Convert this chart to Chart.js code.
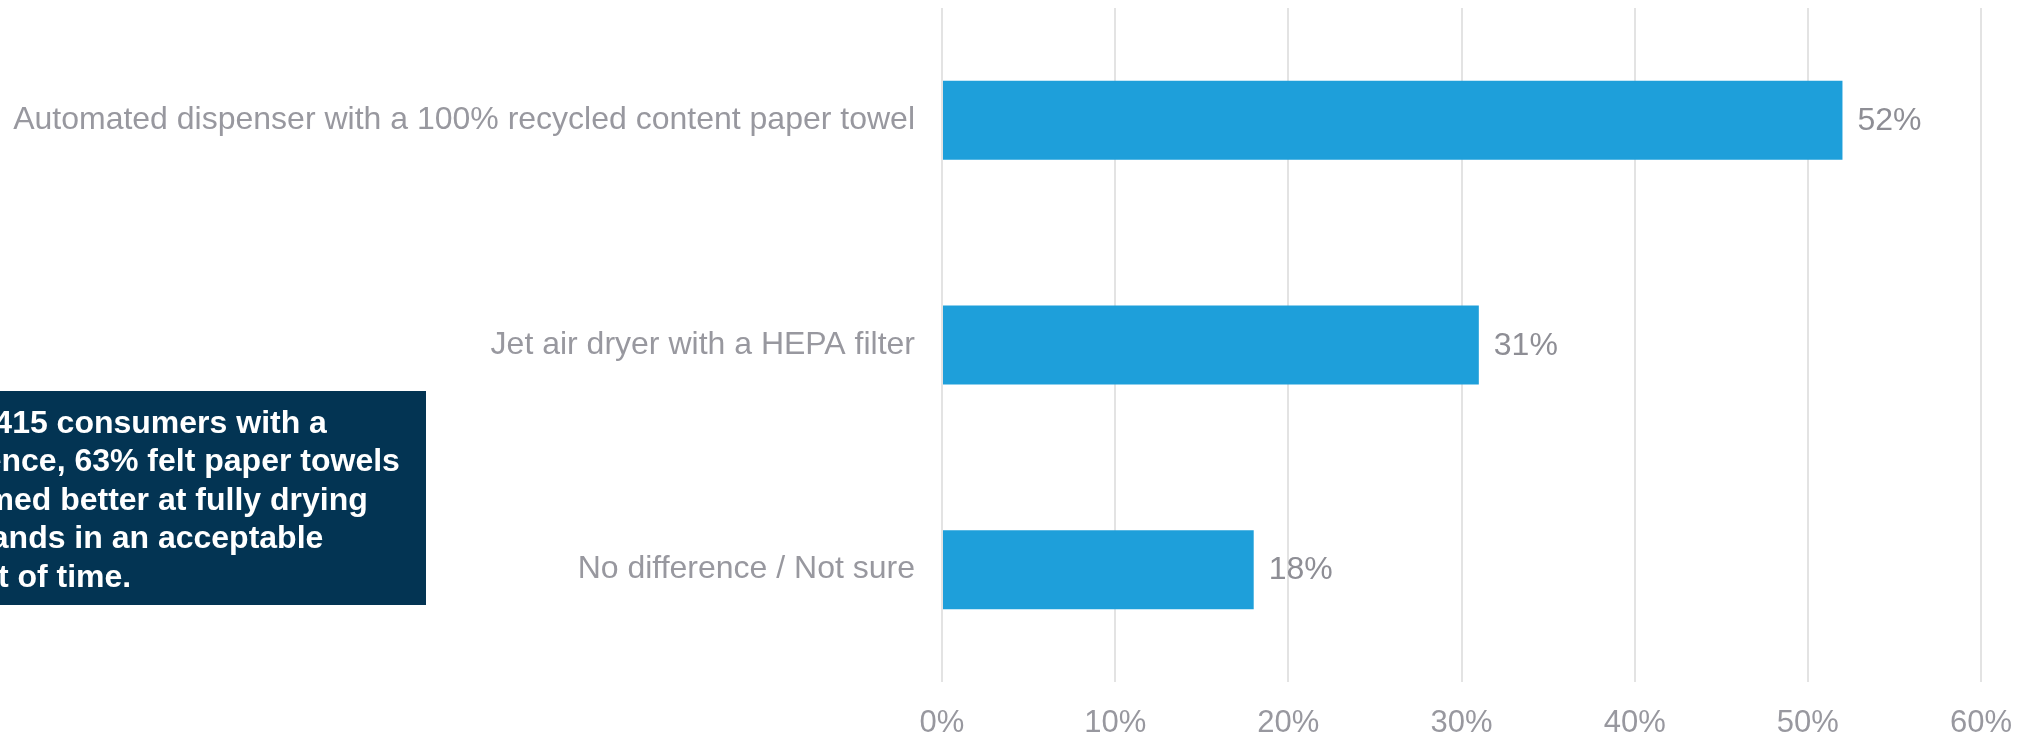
<!DOCTYPE html>
<html>
<head>
<meta charset="utf-8">
<script src="https://cdn.jsdelivr.net/npm/chart.js@4.4.1/dist/chart.umd.min.js"></script>
<style>
html,body{margin:0;padding:0;background:#ffffff;overflow:hidden;}
#wrap{width:2021px;height:737px;}
</style>
</head>
<body>
<div id="wrap"><canvas id="c" width="2021" height="737"></canvas></div>
<script>
// ---- data ----
const categories = [
  "Automated dispenser with a 100% recycled content paper towel",
  "Jet air dryer with a HEPA filter",
  "No difference / Not sure"
];
const shares = [52, 31, 18];
const xTickValues = [0, 10, 20, 30, 40, 50, 60];
const calloutLines = [
  "Of the 415 consumers with a",
  "preference, 63% felt paper towels",
  "performed better at fully drying",
  "their hands in an acceptable",
  "amount of time."
];

const FONT = "'Liberation Sans', Arial, Helvetica, sans-serif";
const LABEL_GRAY = '#98989f';

const valueLabels = {
  id: 'valueLabels',
  afterDatasetsDraw(chart) {
    const ctx = chart.ctx;
    const meta = chart.getDatasetMeta(0);
    ctx.save();
    ctx.font = '32px ' + FONT;
    ctx.fillStyle = '#8e8e95';
    ctx.textAlign = 'left';
    ctx.textBaseline = 'middle';
    meta.data.forEach((bar, i) => {
      ctx.fillText(shares[i] + '%', bar.x + 15, bar.y + 1);
    });
    ctx.restore();
  }
};

const callout = {
  id: 'callout',
  afterDraw(chart) {
    const ctx = chart.ctx;
    ctx.save();
    ctx.fillStyle = '#033453';
    ctx.fillRect(0, 391, 426, 214);
    ctx.beginPath();
    ctx.rect(0, 391, 426, 214);
    ctx.clip();
    ctx.fillStyle = '#ffffff';
    ctx.font = 'bold 32px ' + FONT;
    ctx.textAlign = 'left';
    ctx.textBaseline = 'alphabetic';
    calloutLines.forEach((line, i) => {
      ctx.fillText(line, -107, 433 + i * 38.4);
    });
    ctx.restore();
  }
};

new Chart(document.getElementById('c'), {
  type: 'bar',
  data: {
    labels: categories,
    datasets: [{
      data: shares,
      backgroundColor: '#1e9fda',
      borderWidth: 0,
      barPercentage: 0.352,
      categoryPercentage: 1.0
    }]
  },
  options: {
    indexAxis: 'y',
    responsive: false,
    animation: false,
    devicePixelRatio: 1,
    layout: { padding: { top: 8, right: 40, bottom: 0, left: 0 } },
    plugins: {
      legend: { display: false },
      tooltip: { enabled: false },
      title: { display: false }
    },
    scales: {
      x: {
        type: 'linear',
        min: 0,
        max: 60,
        afterBuildTicks(scale) {
          scale.ticks = xTickValues.map(v => ({ value: v }));
        },
        afterFit(scale) {
          scale.height = 55;
          scale.paddingLeft = 0;
          scale.paddingRight = 0;
        },
        ticks: {
          callback: v => v + '%',
          color: LABEL_GRAY,
          font: { family: FONT, size: 31 },
          padding: 23,
          maxRotation: 0
        },
        grid: {
          color: '#e3e3e3',
          lineWidth: 2,
          drawTicks: false
        },
        border: { display: false }
      },
      y: {
        afterFit(scale) {
          scale.width = 942;
          scale.paddingTop = 0;
          scale.paddingBottom = 0;
        },
        ticks: {
          color: LABEL_GRAY,
          font: { family: FONT, size: 32 },
          padding: 27
        },
        grid: { display: false, drawTicks: false },
        border: { display: false }
      }
    }
  },
  plugins: [valueLabels, callout]
});
</script>
</body>
</html>
